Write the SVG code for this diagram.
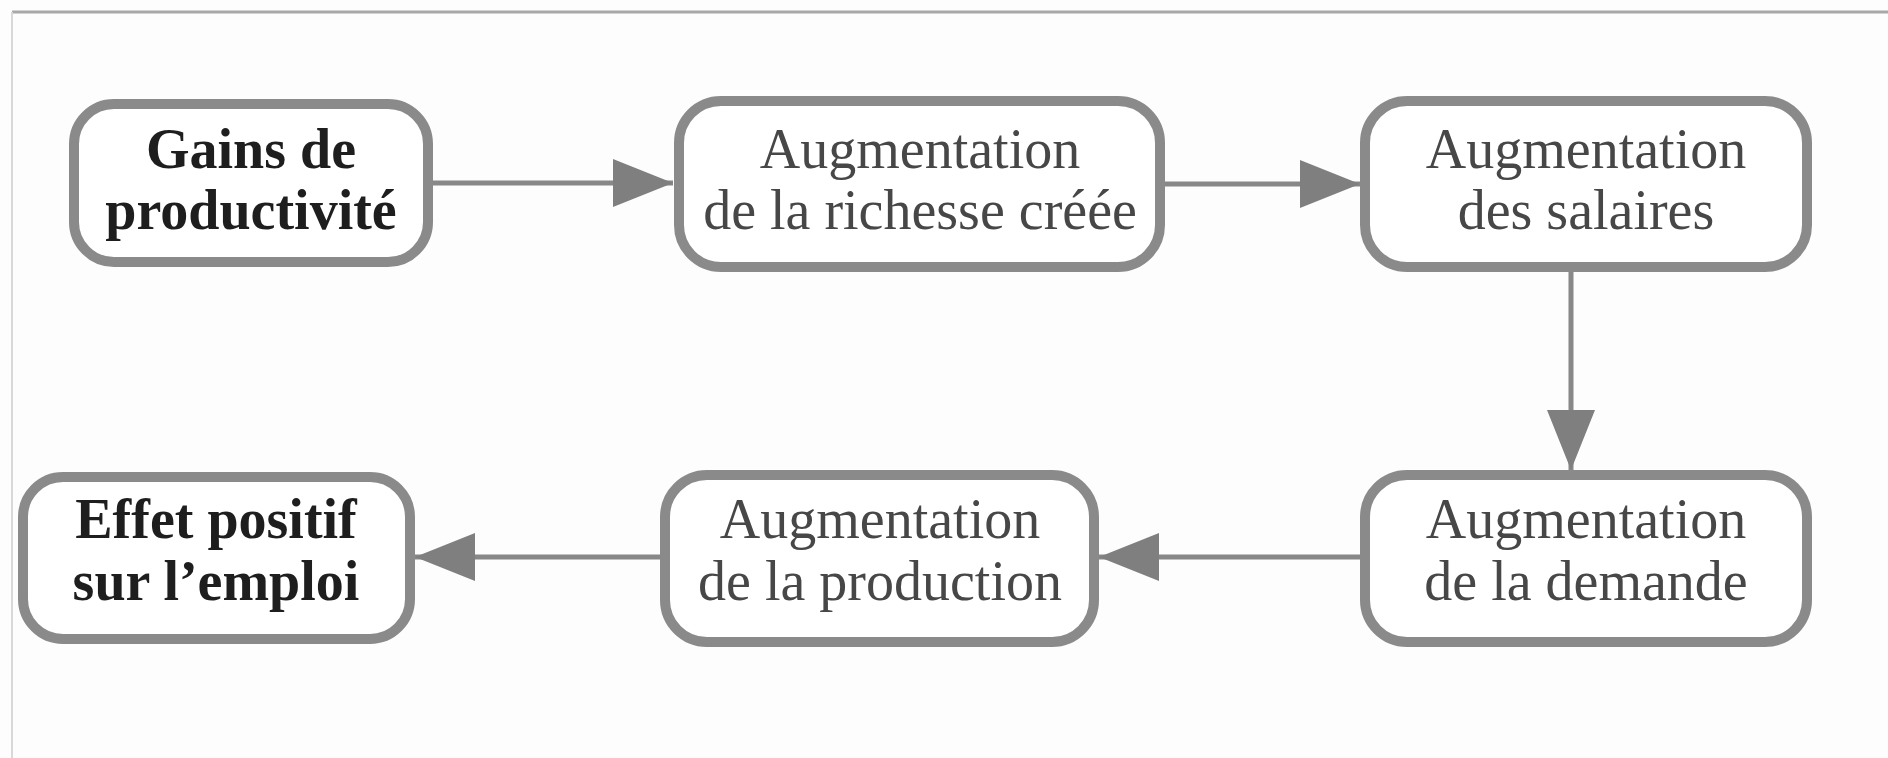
<svg xmlns="http://www.w3.org/2000/svg" width="1888" height="758" viewBox="0 0 1888 758">
<style>
.box{fill:#ffffff;stroke:#8a8a8a;stroke-width:10}
.t{font-family:"Liberation Serif","DejaVu Serif",serif;font-size:56px;text-anchor:middle;fill:#474747}
.b{font-weight:bold;fill:#1e1e1e}
.c{stroke:#888888;stroke-width:5;fill:none;marker-end:url(#ah)}
</style>
<defs>
<marker id="ah" markerUnits="userSpaceOnUse" viewBox="0 0 60 48" refX="60" refY="24" markerWidth="60" markerHeight="48" orient="auto">
<path d="M0,0 L60,24 L0,48 Z" fill="#7f7f7f"/>
</marker>
</defs>
<rect x="0" y="0" width="1888" height="758" fill="#fdfdfd"/>
<line x1="12" y1="12" x2="1888" y2="12" stroke="#a8a8a8" stroke-width="3"/>
<line x1="12" y1="12" x2="12" y2="758" stroke="#d8d8d8" stroke-width="2"/>
<g id="connectors">
<line class="c" x1="433" y1="183" x2="673" y2="183"/>
<line class="c" x1="1165" y1="184" x2="1360" y2="184"/>
<line class="c" x1="1571" y1="272" x2="1571" y2="470"/>
<line class="c" x1="1360" y1="557" x2="1099" y2="557"/>
<line class="c" x1="660" y1="557" x2="415" y2="557"/>
</g>
<g id="n1">
<rect class="box" x="74" y="104" width="354" height="158" rx="40"/>
<text class="t b" x="251" y="168">Gains de</text>
<text class="t b" x="251" y="229">productivité</text>
</g>
<g id="n2">
<rect class="box" x="679" y="101" width="481" height="166" rx="42"/>
<text class="t" x="920" y="168">Augmentation</text>
<text class="t" x="920" y="229">de la richesse créée</text>
</g>
<g id="n3">
<rect class="box" x="1365" y="101" width="442" height="166" rx="42"/>
<text class="t" x="1586" y="168">Augmentation</text>
<text class="t" x="1586" y="229">des salaires</text>
</g>
<g id="n4">
<rect class="box" x="1365" y="475" width="442" height="167" rx="42"/>
<text class="t" x="1586" y="538">Augmentation</text>
<text class="t" x="1586" y="600">de la demande</text>
</g>
<g id="n5">
<rect class="box" x="665" y="475" width="429" height="167" rx="42"/>
<text class="t" x="880" y="538">Augmentation</text>
<text class="t" x="880" y="600">de la production</text>
</g>
<g id="n6">
<rect class="box" x="23" y="477" width="387" height="162" rx="40"/>
<text class="t b" x="216" y="538">Effet positif</text>
<text class="t b" x="216" y="600">sur l’emploi</text>
</g>
</svg>
